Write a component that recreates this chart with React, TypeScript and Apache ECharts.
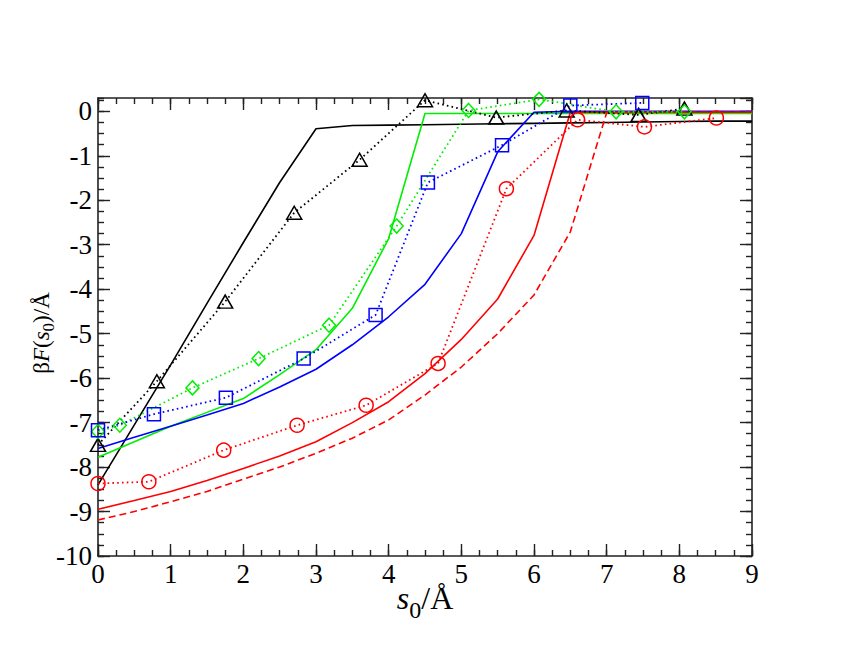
import React, { useEffect, useRef } from "react";
import * as echarts from "echarts";

// ---- data ----
const gridX = [0, 0.5, 1, 1.5, 2, 2.5, 3, 3.5, 4, 4.5, 5, 5.5, 6, 6.5, 7, 7.5, 8, 8.5, 9];
const blackSolid = [-8.4, -7.05, -5.7, -4.32, -2.95, -1.6, -0.39, -0.32, -0.31, -0.3, -0.29, -0.28, -0.27, -0.26, -0.25, -0.24, -0.23, -0.22, -0.22];
const greenSolid = [-7.78, -7.43, -7.08, -6.77, -6.46, -5.92, -5.36, -4.43, -2.86, -0.05, -0.05, -0.05, -0.05, -0.05, -0.05, -0.05, -0.05, -0.05, -0.05];
const blueSolid = [-7.58, -7.33, -7.08, -6.83, -6.57, -6.2, -5.8, -5.25, -4.62, -3.89, -2.75, -0.91, -0.02, 0, 0, 0, 0, 0, 0];
const redSolid = [-8.95, -8.75, -8.55, -8.3, -8.03, -7.75, -7.43, -7.0, -6.53, -5.9, -5.13, -4.22, -2.79, -0.02, -0.02, -0.02, -0.02, -0.02, -0.02];
const redDashed = [-9.19, -9.0, -8.78, -8.55, -8.27, -8.0, -7.69, -7.35, -6.94, -6.38, -5.75, -5.0, -4.13, -2.71, -0.03, -0.02, -0.02, -0.02, -0.02];

const triX = [0, 0.81, 1.75, 2.7, 3.6, 4.5, 5.48, 6.45, 7.44, 8.07];
const triY = [-7.5, -6.07, -4.28, -2.28, -1.09, 0.25, -0.14, 0.02, -0.08, 0.06];
const diaX = [0, 0.3, 1.3, 2.21, 3.18, 4.11, 5.1, 6.07, 7.13, 8.07];
const diaY = [-7.2, -7.06, -6.22, -5.56, -4.81, -2.58, 0.02, 0.27, -0.01, -0.01];
const sqX = [0, 0.77, 1.76, 2.83, 3.82, 4.54, 5.56, 6.5, 7.49];
const sqY = [-7.17, -6.81, -6.44, -5.56, -4.58, -1.6, -0.76, 0.13, 0.19];
const cirX = [0, 0.7, 1.73, 2.74, 3.69, 4.68, 5.62, 6.6, 7.52, 8.51];
const cirY = [-8.37, -8.33, -7.62, -7.06, -6.61, -5.67, -1.74, -0.19, -0.35, -0.15];

const xTicks = [0, 1, 2, 3, 4, 5, 6, 7, 8, 9];
const yTicks = [-10, -9, -8, -7, -6, -5, -4, -3, -2, -1, 0];

const BLACK = "#000000";
const RED = "#ff0000";
const GREEN = "#00ee00";
const BLUE = "#0000ff";
const FONT = "Liberation Serif, Times New Roman, serif";

const pair = (xs: number[], ys: number[]) => xs.map((x, i) => [x, ys[i]]);

export default function App() {
  const ref = useRef<HTMLDivElement>(null);
  useEffect(() => {
    document.body.style.margin = "0";
    if (!ref.current) return;
    const chart = echarts.init(ref.current, undefined, { renderer: "svg" });

    const xMin = xTicks[0];
    const xMax = xTicks[xTicks.length - 1];
    const yMin = yTicks[0];
    const yMax = 0.3;
    const axisLineStyle = { color: "#222", width: 1.6 };

    const mkX = (pos: "bottom" | "top", interval: number, len: number, main: boolean, line: boolean) => ({
      type: "value",
      position: pos,
      min: xMin,
      max: xMax,
      interval,
      axisLine: { show: line, onZero: false, lineStyle: axisLineStyle },
      axisTick: { show: true, inside: true, length: len, lineStyle: { color: "#222", width: 1.4 } },
      axisLabel: main
        ? { show: true, color: "#000", fontFamily: FONT, fontSize: 27, margin: 4 }
        : { show: false },
      splitLine: { show: false },
    });

    const mkY = (pos: "left" | "right", interval: number, len: number, main: boolean, line: boolean) => ({
      type: "value",
      position: pos,
      min: yMin,
      max: yMax,
      interval,
      axisLine: { show: line, onZero: false, lineStyle: axisLineStyle },
      axisTick: { show: true, inside: true, length: len, lineStyle: { color: "#222", width: 1.4 } },
      axisLabel: main
        ? { show: true, color: "#000", fontFamily: FONT, fontSize: 27, margin: 6, showMaxLabel: false }
        : { show: false },
      splitLine: { show: false },
    });

    const solid = (ys: number[], color: string, type: any = "solid") => ({
      type: "line",
      data: pair(gridX, ys),
      symbol: "none",
      lineStyle: { color, width: 1.6, type },
      xAxisIndex: 0,
      yAxisIndex: 0,
      z: 3,
    });
    const dotted = (xs: number[], ys: number[], color: string, symbol: string, size: any) => ({
      type: "line",
      data: pair(xs, ys),
      symbol,
      symbolSize: size,
      showSymbol: true,
      lineStyle: { color, width: 1.8, type: [1.6, 3.2] },
      itemStyle: { color: "rgba(0,0,0,0)", borderColor: color, borderWidth: 1.5 },
      xAxisIndex: 0,
      yAxisIndex: 0,
      z: 4,
    });

    const richFor = (fs: number, subFs: number, pad: number) => ({
      i: { fontStyle: "italic", fontSize: fs, fontFamily: FONT, lineHeight: fs, fill: "#000" },
      sub: { fontSize: subFs, fontFamily: FONT, lineHeight: fs, padding: [pad, 0, 0, 0], fill: "#000" },
      n: { fontSize: fs, fontFamily: FONT, lineHeight: fs, fill: "#000" },
    });

    chart.setOption({
      animation: false,
      backgroundColor: "#ffffff",
      grid: { left: 98, right: 94, top: 98, bottom: 98, containLabel: false },
      xAxis: [
        mkX("bottom", 1, 12, true, true),
        mkX("bottom", 0.25, 6, false, false),
        mkX("top", 1, 12, false, true),
        mkX("top", 0.25, 6, false, false),
      ],
      yAxis: [
        mkY("left", 1, 12, true, true),
        mkY("left", 0.25, 6, false, false),
        mkY("right", 1, 12, false, true),
        mkY("right", 0.25, 6, false, false),
      ],
      graphic: [
        {
          type: "text",
          x: 425,
          y: 598,
          style: {
            text: "{i|s}{sub|0}{n|/Å}",
            rich: richFor(32, 24, 24),
            align: "center",
            verticalAlign: "middle",
            fill: "#000",
            font: "32px " + FONT,
          },
        },
        {
          type: "text",
          x: 41,
          y: 333,
          rotation: Math.PI / 2,
          style: {
            text: "{n|β}{i|F}{n|(}{i|s}{sub|0}{n|)/Å}",
            rich: richFor(23, 17, 14),
            align: "center",
            verticalAlign: "middle",
            fill: "#000",
            font: "23px " + FONT,
          },
        },
      ],
      series: [
        solid(blackSolid, BLACK),
        solid(greenSolid, GREEN),
        solid(blueSolid, BLUE),
        solid(redSolid, RED),
        solid(redDashed, RED, [7, 4]),
        dotted(triX, triY, BLACK, "triangle", [15, 13]),
        dotted(diaX, diaY, GREEN, "diamond", [13, 14]),
        dotted(sqX, sqY, BLUE, "rect", [13, 13]),
        dotted(cirX, cirY, RED, "circle", 14),
      ],
    });
    return () => chart.dispose();
  }, []);
  return <div ref={ref} style={{ width: 846, height: 654 }} />;
}
